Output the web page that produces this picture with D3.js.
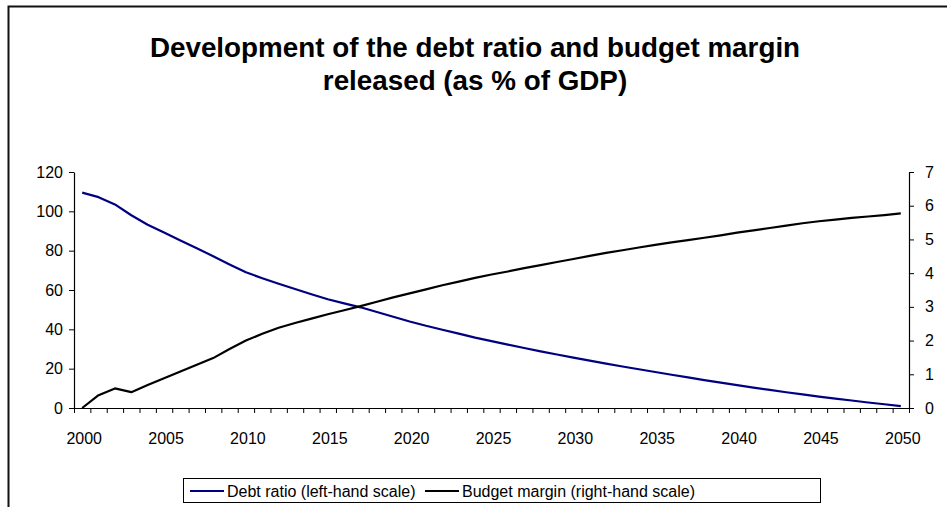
<!DOCTYPE html>
<html>
<head>
<meta charset="utf-8">
<script src="https://cdn.jsdelivr.net/npm/d3@7"></script>
<style>
  html, body { margin: 0; padding: 0; background: #fff; }
  svg { display: block; font-family: "Liberation Sans", Arial, sans-serif; }
</style>
</head>
<body>
<svg id="chart" width="947" height="507"></svg>
<script>
// Years 2000–2050
const years = d3.range(2000, 2051);

// Debt ratio, % of GDP (left-hand scale)
const debtRatio = [
  109.5, 107.2, 103.5, 98.0, 93.2, 89.2, 85.2, 81.2, 77.2, 73.0,
  69.0, 66.0, 63.2, 60.5, 57.8, 55.3, 53.2, 51.2, 48.8, 46.4,
  44.0, 41.8, 39.8, 37.8, 35.8, 34.0, 32.2, 30.5, 28.8, 27.2,
  25.6, 24.1, 22.6, 21.1, 19.7, 18.3, 16.9, 15.6, 14.2, 12.9,
  11.6, 10.4, 9.2, 8.0, 6.9, 5.8, 4.8, 3.8, 2.8, 1.9,
  1.0
];

// Budget margin released, % of GDP (right-hand scale)
const budgetMargin = [
  0.00, 0.38, 0.58, 0.47, 0.68, 0.88, 1.08, 1.28, 1.48, 1.75,
  2.00, 2.20, 2.38, 2.52, 2.65, 2.78, 2.90, 3.02, 3.15, 3.28,
  3.40, 3.52, 3.64, 3.75, 3.86, 3.96, 4.05, 4.15, 4.24, 4.33,
  4.42, 4.51, 4.60, 4.68, 4.76, 4.84, 4.91, 4.98, 5.05, 5.12,
  5.20, 5.27, 5.34, 5.41, 5.48, 5.54, 5.59, 5.64, 5.68, 5.72,
  5.77
];

const leftTicks = [0, 20, 40, 60, 80, 100, 120];
const rightTicks = [0, 1, 2, 3, 4, 5, 6, 7];
const yearLabels = [2000, 2005, 2010, 2015, 2020, 2025, 2030, 2035, 2040, 2045, 2050];

const titleLines = [
  "Development of the debt ratio and budget margin",
  "released (as % of GDP)"
];
const seriesNames = ["Debt ratio (left-hand scale)", "Budget margin (right-hand scale)"];
const seriesColors = ["#000080", "#000000"];

const svg = d3.select("#chart");
const W = 947, H = 507;
const plot = { left: 74, right: 909, top: 172, bottom: 408 };

// Outer chart frame (top and left edges lie inside the page)
svg.append("path")
  .attr("d", `M8.5,${H} L8.5,6.5 L${W},6.5`)
  .attr("fill", "none")
  .attr("stroke", "#111")
  .attr("stroke-width", 2);

// Title
svg.append("g").selectAll("text")
  .data(titleLines)
  .join("text")
  .attr("x", 475)
  .attr("y", (d, i) => 57 + i * 33)
  .attr("text-anchor", "middle")
  .attr("font-weight", "bold")
  .attr("font-size", 27.8)
  .attr("fill", "#000")
  .text(d => d);

// Scales
const x = d3.scaleBand().domain(years).range([plot.left, plot.right]).padding(0);
const xEdge = d3.scaleLinear().domain([0, years.length]).range([plot.left, plot.right]);
const yL = d3.scaleLinear().domain([0, 120]).range([plot.bottom, plot.top]);
const yR = d3.scaleLinear().domain([0, 7]).range([plot.bottom, plot.top]);
const cx = d => x(d) + x.bandwidth() / 2;

const styleAxis = g => {
  g.selectAll(".domain").attr("stroke", "#000").attr("stroke-width", 1.2);
  g.selectAll(".tick line").attr("stroke", "#000").attr("stroke-width", 1);
  g.selectAll(".tick text")
    .attr("font-family", "'Liberation Sans', Arial, sans-serif")
    .attr("font-size", 16)
    .attr("fill", "#000");
};

// Left axis
svg.append("g")
  .attr("transform", `translate(${plot.left},0)`)
  .call(d3.axisLeft(yL).tickValues(leftTicks).tickSize(5).tickPadding(6).tickSizeOuter(0))
  .call(styleAxis);

// Right axis
svg.append("g")
  .attr("transform", `translate(${plot.right},0)`)
  .call(d3.axisRight(yR).tickValues(rightTicks).tickFormat(d3.format("d"))
    .tickSize(5).tickPadding(11).tickSizeOuter(0))
  .call(styleAxis);

// Category axis: tick marks between years
svg.append("g")
  .attr("transform", `translate(0,${plot.bottom})`)
  .call(d3.axisBottom(xEdge).tickValues(d3.range(years.length + 1)).tickSize(5).tickFormat("").tickSizeOuter(0))
  .call(styleAxis);

// Category axis: year labels centred on their categories
svg.append("g")
  .attr("transform", `translate(2,${plot.bottom})`)
  .call(d3.axisBottom(x).tickValues(yearLabels).tickSize(0).tickPadding(25))
  .call(styleAxis)
  .call(g => g.select(".domain").remove());

// Lines
const debtLine = d3.line().x((d, i) => cx(years[i])).y(d => yL(d));
const marginLine = d3.line().x((d, i) => cx(years[i])).y(d => yR(d));

svg.append("path")
  .datum(debtRatio)
  .attr("d", debtLine)
  .attr("fill", "none")
  .attr("stroke", seriesColors[0])
  .attr("stroke-width", 2.2)
  .attr("stroke-linejoin", "round");

svg.append("path")
  .datum(budgetMargin)
  .attr("d", marginLine)
  .attr("fill", "none")
  .attr("stroke", seriesColors[1])
  .attr("stroke-width", 2.2)
  .attr("stroke-linejoin", "round");

// Legend
const legend = svg.append("g");
legend.append("rect")
  .attr("x", 183.5).attr("y", 478.5)
  .attr("width", 637).attr("height", 24)
  .attr("fill", "#fff").attr("stroke", "#000").attr("stroke-width", 1);

const legendX = [190, 425];
const items = legend.selectAll("g.item")
  .data(seriesNames)
  .join("g")
  .attr("class", "item")
  .attr("transform", (d, i) => `translate(${legendX[i]},491)`);
items.append("line")
  .attr("x1", 0).attr("x2", 34).attr("y1", 0).attr("y2", 0)
  .attr("stroke", (d, i) => seriesColors[i]).attr("stroke-width", 2);
items.append("text")
  .attr("x", 37).attr("y", 6)
  .attr("font-size", 16)
  .attr("fill", "#000")
  .text(d => d);
</script>
</body>
</html>
